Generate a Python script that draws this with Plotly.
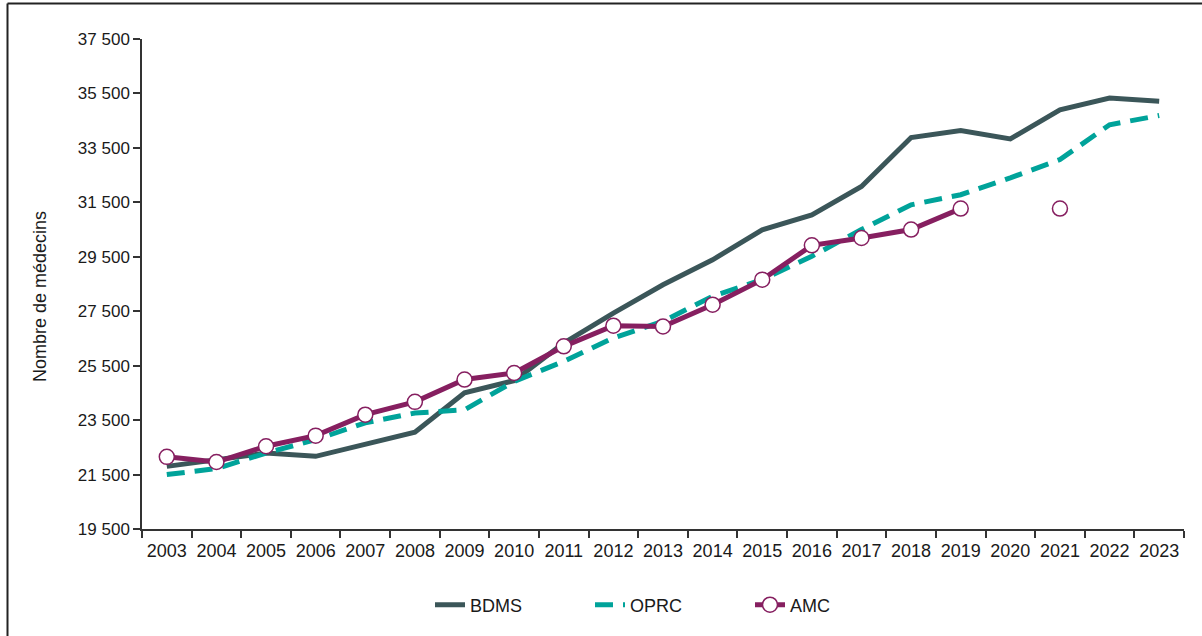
import plotly.graph_objects as go

years = [str(y) for y in range(2003, 2024)]
bdms = [21800, 22030, 22290, 22170, 22600, 23060, 24500, 24950, 26330, 27430, 28470,
        29390, 30490, 31040, 32080, 33880, 34140, 33830, 34900, 35330, 35210]
oprc = [21500, 21720, 22290, 22780, 23400, 23760, 23880, 24920, 25660, 26520, 27130,
        28050, 28660, 29520, 30500, 31410, 31780, 32400, 33070, 34350, 34690]
amc = [22150, 21960, 22540, 22930, 23700, 24170, 24990, 25230, 26210, 26970, 26940,
       27740, 28660, 29920, 30190, 30500, 31270, None, 31270, None, None]
y_ticks = list(range(19500, 37501, 2000))

FONT = "Liberation Sans, Arial, sans-serif"
C_BDMS = "#3b5659"
C_OPRC = "#00a39a"
C_AMC = "#861f60"

fig = go.Figure()
fig.add_trace(go.Scatter(x=years, y=bdms, name="BDMS", mode="lines",
                         line=dict(color=C_BDMS, width=5)))
fig.add_trace(go.Scatter(x=years, y=oprc, name="OPRC", mode="lines",
                         line=dict(color=C_OPRC, width=5, dash="18px,10px")))
fig.add_trace(go.Scatter(x=years, y=amc, name="AMC", mode="lines+markers",
                         connectgaps=False,
                         line=dict(color=C_AMC, width=5),
                         marker=dict(symbol="circle", size=15, color="white",
                                     line=dict(color=C_AMC, width=1.5))))

W, H = 1202, 636
L, R, T, B = 142, 18, 39, 107
pw, ph = W - L - R, H - T - B

def px(x):
    return (x - L) / pw

def py(y):
    return (H - B - y) / ph

fig.update_layout(
    width=W, height=H,
    margin=dict(l=L, r=R, t=T, b=B, autoexpand=False),
    paper_bgcolor="white", plot_bgcolor="white",
    separators=", ",
    font=dict(family=FONT, size=18, color="#1a1a1a"),
    showlegend=True,
    legend=dict(orientation="h", x=px(670), xanchor="center", y=py(605), yanchor="middle",
                font=dict(size=18), entrywidth=115, entrywidthmode="pixels",
                bgcolor="rgba(0,0,0,0)"),
    xaxis=dict(type="category", range=[-0.5, len(years) - 0.5], tickson="boundaries",
               ticks="outside", ticklen=7, ticklabelstandoff=5,
               tickcolor="#333", tickwidth=1.5, showline=True, linecolor="#333", linewidth=1.5,
               showgrid=False, zeroline=False, tickfont=dict(size=18), tickangle=0,
               automargin=False),
    yaxis=dict(range=[19500, 37500], tickvals=y_ticks, tickformat=",d", ticks="outside",
               ticklen=7, tickcolor="#333", tickwidth=1.5, showline=True, linecolor="#333",
               linewidth=1.5, showgrid=False, zeroline=False, tickfont=dict(size=17),
               automargin=False),
    annotations=[dict(text="Nombre de médecins", x=px(40), y=py(297), xref="paper",
                      yref="paper", textangle=-90, showarrow=False,
                      font=dict(size=18), xanchor="center", yanchor="middle")],
    shapes=[
        dict(type="line", xref="paper", yref="paper", x0=px(7.5), x1=px(W + 5),
             y0=py(3.5), y1=py(3.5), line=dict(color="#222", width=2)),
        dict(type="line", xref="paper", yref="paper", x0=px(7.5), x1=px(7.5),
             y0=py(3.5), y1=py(H + 5), line=dict(color="#222", width=2)),
    ],
)

fig.write_html("out.html", config={"displayModeBar": False},
               post_script="document.body.style.margin='0px';document.body.style.padding='0px';")
